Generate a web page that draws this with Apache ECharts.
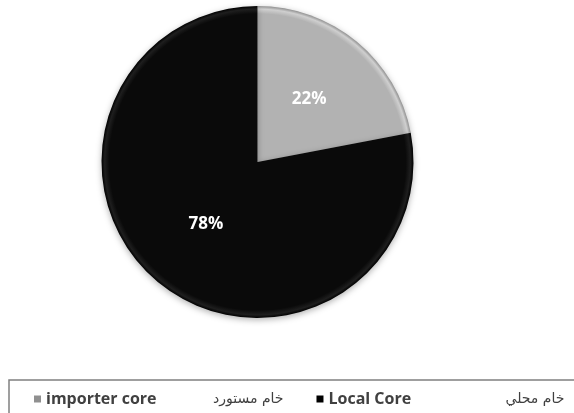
<!DOCTYPE html>
<html><head><meta charset="utf-8">
<script src="https://cdn.jsdelivr.net/npm/echarts@6/dist/echarts.min.js"></script>
<style>html,body{margin:0;padding:0;background:#fff}#c{width:574px;height:413px}</style>
</head><body><div id="c"></div>
<script>
const names = ['importer core', 'Local Core'];
const arabicNames = ['خام مستورد', 'خام محلي'];
const values = [22, 78];
const colors = ['#b2b2b2', '#0a0a0a'];
const rims = ['#cfcfcf', '#1e1e1e'];

const cx = 257.5, cy = 162, R = 156;
function grad(i) {
  return {
    type: 'radial', x: cx, y: cy, r: R, global: true,
    colorStops: [
      {offset: 0, color: colors[i]},
      {offset: 0.95, color: colors[i]},
      {offset: 0.98, color: rims[i]},
      {offset: 1, color: i === 0 ? '#909090' : '#000'}
    ]
  };
}
const chart = echarts.init(document.getElementById('c'));
chart.setOption({
  animation: false,
  legend: {
    data: names,
    left: 29, top: 386, width: 560,
    itemWidth: 7, itemHeight: 7,
    itemGap: 33,
    icon: 'rect',
    formatter: function (n) {
      const i = names.indexOf(n);
      return '{a' + i + '|' + n + '}{b|' + arabicNames[i] + '}';
    },
    textStyle: {
      rich: {
        a0: {width: 167, fontFamily: 'Open Sans', fontWeight: 'bold', fontSize: 16, color: '#404040'},
        a1: {width: 177, fontFamily: 'Open Sans', fontWeight: 'bold', fontSize: 16, color: '#404040'},
        b: {fontFamily: 'DejaVu Sans', fontSize: 14, color: '#404040'}
      }
    }
  },
  graphic: [{
    type: 'rect', silent: true,
    shape: {x: 9, y: 380, width: 600, height: 60},
    style: {fill: 'none', stroke: '#808080', lineWidth: 1.5}
  }],
  series: [{
    type: 'pie',
    center: [cx, cy],
    radius: R,
    startAngle: 90,
    clockwise: true,
    data: names.map((n, i) => ({name: n, value: values[i], itemStyle: {color: grad(i)}})),
    itemStyle: {shadowBlur: 6, shadowColor: 'rgba(0,0,0,0.3)', shadowOffsetY: 2},
    label: {
      show: true, position: 'inside',
      formatter: '{d}%',
      color: '#fff', fontFamily: 'Open Sans', fontWeight: 'bold', fontSize: 17
    },
    labelLine: {show: false},
    emphasis: {disabled: true}
  }]
});
</script></body></html>
